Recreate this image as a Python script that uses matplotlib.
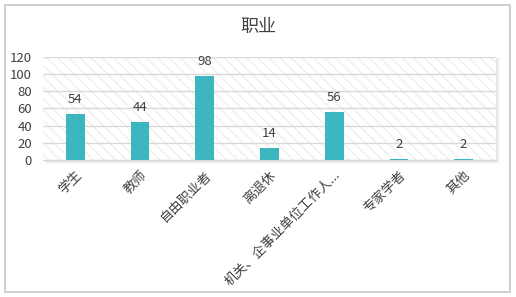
import matplotlib.pyplot as plt
from matplotlib.patches import Rectangle

plt.rcParams['font.family'] = ['Noto Sans CJK SC', 'DejaVu Sans']
plt.rcParams['hatch.linewidth'] = 1.0

categories = ['学生', '教师', '自由职业者', '离退休', '机关、企事业单位工作人...', '专家学者', '其他']
values = [54, 44, 98, 14, 56, 2, 2]
yticks = [0, 20, 40, 60, 80, 100, 120]

W, H = 516, 297
fig = plt.figure(figsize=(W / 100, H / 100), dpi=100)
fig.patch.set_facecolor('white')

# outer border
fig.patches.append(Rectangle((5 / W, 5 / H), 505 / W, 287 / H, transform=fig.transFigure,
                             fill=False, edgecolor='#c8c8c8', linewidth=1.2))

left, right, top, bottom = 43, 496, 56.5, 160.3
ax = fig.add_axes([left / W, 1 - bottom / H, (right - left) / W, (bottom - top) / H])
ax.set_zorder(1)

# faint shadow behind plot area
for i, a in enumerate([0.06, 0.04, 0.02]):
    d = (i + 1) * 1.3
    fig.patches.append(Rectangle(((left + d) / W, (H - bottom - d) / H), (right - left) / W, (bottom - top + d * 0.5) / H,
                                 transform=fig.transFigure, facecolor='black', alpha=a,
                                 edgecolor='none', zorder=-1))

ax.set_facecolor('white')
ax.add_patch(Rectangle((0, 0), 1, 1, transform=ax.transAxes, facecolor='white',
                       hatch='\\\\\\', edgecolor='#efefef', linewidth=0, zorder=0))

x = range(len(categories))
ax.bar(x, values, width=0.29, color='#3db7bf', zorder=3)
for xi, v in zip(x, values):
    ax.text(xi, v + 9, str(v), ha='center', va='bottom', fontsize=9.5, color='#404040', zorder=4)

ax.set_xlim(-0.5, len(categories) - 0.5)
ax.set_ylim(0, 120)
ax.set_yticks(yticks)
ax.yaxis.grid(True, color='#d9d9d9', linewidth=1, zorder=1)
ax.set_axisbelow(True)
for s in ['top', 'right', 'left']:
    ax.spines[s].set_visible(False)
ax.spines['bottom'].set_color('#d9d9d9')
ax.tick_params(axis='both', length=0, colors='#404040')
ax.tick_params(axis='y', pad=8, labelsize=9.5)
ax.set_xticks(list(x))
ax.set_xticklabels(categories, rotation=45, ha='right', rotation_mode='anchor')
ax.tick_params(axis='x', pad=6, labelsize=9.5)

fig.text(0.5, 1 - 27 / H, '职业', ha='center', va='center', fontsize=13, color='#404040')

fig.savefig('out.png', dpi=100)
